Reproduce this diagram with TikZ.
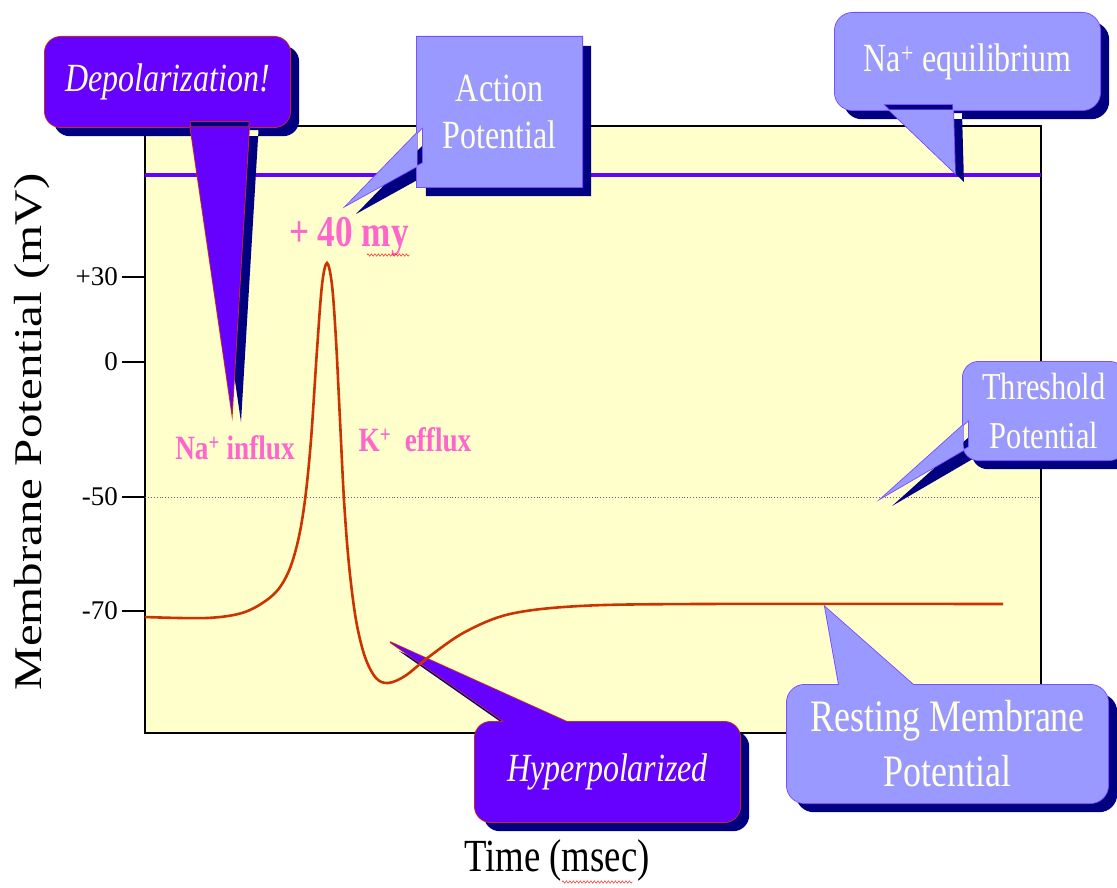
\documentclass[tikz,border=0pt]{standalone}
\usepackage{fontspec}
\setmainfont{Liberation Serif}[FakeStretch=0.8]
\newfontfamily\fullwidth{Liberation Serif}
\usetikzlibrary{calc, decorations.pathmorphing}

\definecolor{plotbg}{HTML}{FFFFCC}
\definecolor{deepviolet}{HTML}{6600FF}
\definecolor{paleviolet}{HTML}{9999FF}
\definecolor{shadownavy}{HTML}{000080}
\definecolor{cream}{HTML}{FFFFDD}
\definecolor{spike}{HTML}{CC3300}
\definecolor{ionpink}{HTML}{FF66CC}
\definecolor{rimred}{HTML}{CC3300}
\definecolor{rimviolet}{HTML}{7744FF}

\pgfdeclarelayer{plot}
\pgfdeclarelayer{shade}
\pgfdeclarelayer{balloon}
\pgfsetlayers{plot,shade,balloon,main}

% #1 text node, #2 fill style, #3 corners, #4 tail
\newcommand{\balloon}[4]{%
  \begin{pgfonlayer}{shade}
    \begin{scope}[transform canvas={shift={(9,9)}}]
      \fill[shadownavy, #3] (#1.south west) rectangle (#1.north east)
        [sharp corners] #4 -- cycle;
    \end{scope}
  \end{pgfonlayer}
  \begin{pgfonlayer}{balloon}
    \fill[#2, #3] (#1.south west) rectangle (#1.north east)
      [sharp corners] #4 -- cycle;
  \end{pgfonlayer}}

\begin{document}
\begin{tikzpicture}[x=1pt, y=-1pt,
    tag/.style={text=cream, align=center, inner sep=0pt},
    ion/.style={text=ionpink, font=\bfseries\fontsize{34}{36}\selectfont},
    tick/.style={anchor=east, inner sep=2pt, font=\fullwidth\fontsize{27}{30}\selectfont},
    dark/.style={fill=deepviolet, preaction={draw=rimred, line width=1.6pt}},
    light/.style={fill=paleviolet, preaction={draw=rimviolet, line width=1.6pt}}]
    \useasboundingbox (0,0) rectangle (1117,888);

    % plot area
    \begin{pgfonlayer}{plot}
        \filldraw[fill=plotbg, draw=black, line width=1.2pt] (145,126) rectangle (1041,733);
        \draw[deepviolet, line width=4pt] (145,175) -- (1041,175);
        \draw[black!60, dotted, line width=0.9pt] (145,497) -- (1041,497);
        \foreach \y/\t in {277/+30, 362/0, 497/-50, 611/-70} {
            \draw[line width=1.4pt] (122,\y) -- (145,\y);
            \node[tick] (tick\y) at (120,\y) {\t};
        }
    \end{pgfonlayer}

    % axis titles
    \node[rotate=90, font=\fullwidth\fontsize{49}{52}\selectfont] (ylab) at (32,432)
        {\scalebox{1}[0.8]{Membrane Potential (mV)}};
    \node[font=\fontsize{46}{48}\selectfont] (xlab) at (557,860) {Time (msec)};
    \draw[red, decorate, decoration={zigzag, amplitude=1.2pt, segment length=3.5pt}]
        (562,882) -- (633,882);

    % action potential trace
    \draw[spike, line width=2.6pt] plot[smooth, tension=0.55] coordinates {
        (145,617) (207,618) (245,612) (273,595) (288,573) (298,541) (305,500)
        (311,440) (317,350) (322,285) (327,263) (332,285) (336,340) (340,420)
        (344,500) (349,565) (356,620) (365,657) (376,678) (388,683) (405,676)
        (430,656) (465,632) (510,614) (580,606) (700,604) (1003,604)};

    % ion labels
    \node[ion, font=\bfseries\fontsize{44}{46}\selectfont] (peak) at (349,237) {+ 40 my};
    \draw[red, decorate, decoration={zigzag, amplitude=1.2pt, segment length=3.5pt}]
        (367,255) -- (410,255);
    \node[ion] (naIn) at (235,448) {Na\textsuperscript{+} influx};
    \node[ion] (kOut) at (415,440) {K\textsuperscript{+}~ efflux};

    % callouts
    \node[tag, minimum width=245, minimum height=90, font=\itshape\fontsize{40}{47}\selectfont]
        (dep) at (167.5,82) {Depolarization!};
    \node[tag, minimum width=165, minimum height=150, font=\fontsize{40}{47}\selectfont]
        (act) at (499.5,112) {Action\\Potential};
    \node[tag, minimum width=265, minimum height=97, font=\fontsize{40}{47}\selectfont]
        (naEq) at (967.5,61.5) {Na\textsuperscript{+} equilibrium};
    \node[tag, minimum width=162, minimum height=98, font=\fontsize{38}{49}\selectfont]
        (thr) at (1044,411) {Threshold\\Potential};
    \node[tag, minimum width=265, minimum height=100, font=\itshape\fontsize{40}{47}\selectfont]
        (hyp) at (607.5,772) {Hyperpolarized};
    \node[tag, minimum width=321, minimum height=118, font=\fontsize{45}{55}\selectfont]
        (rest) at (947.5,744) {Resting Membrane\\Potential};

    \coordinate (depTip) at (232,413);
    \coordinate (actTip) at (347,205);
    \coordinate (naEqTip) at (955,173);
    \coordinate (thrTip) at (883,497);
    \coordinate (hypTip) at (390,642);
    \coordinate (restTip) at (825,607);

    \balloon{dep}{dark}{rounded corners=16}
        {($(dep.south)+(22,-6)$) -- (depTip) -- ($(dep.south)+(82,-6)$)}
    \balloon{act}{light}{sharp corners}
        {($(act.west)+(6,15)$) -- (actTip) -- ($(act.west)+(6,51)$)}
    \balloon{naEq}{light}{rounded corners=18}
        {($(naEq.south)+(-84.5,-6)$) -- (naEqTip) -- ($(naEq.south)+(-14.5,-6)$)}
    \balloon{thr}{light}{rounded corners=16}
        {($(thr.west)+(6,9)$) -- (thrTip) -- ($(thr.west)+(6,36)$)}
    \balloon{hyp}{dark}{rounded corners=16}
        {($(hyp.north)+(-94.5,6)$) -- (hypTip) -- ($(hyp.north)+(-27.5,6)$)}
    \balloon{rest}{light}{rounded corners=18}
        {($(rest.north)+(-107.5,6)$) -- (restTip) -- ($(rest.north)+(-27.5,6)$)}
\end{tikzpicture}
\end{document}
